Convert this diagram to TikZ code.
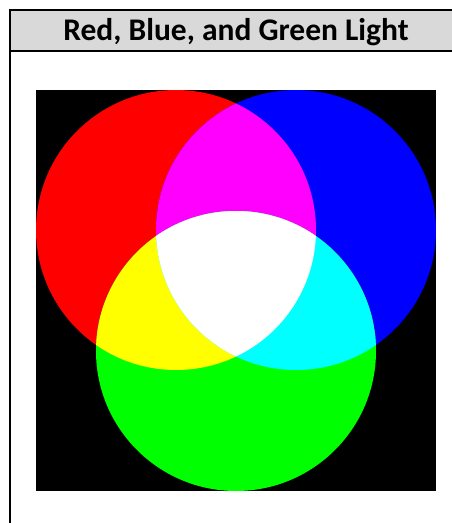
\documentclass[tikz,border=0pt]{standalone}
\usepackage{fontspec}
\setmainfont{Carlito}
\usetikzlibrary{positioning}
\definecolor{lightred}{RGB}{255,0,0}
\definecolor{lightgreen}{RGB}{0,255,0}
\definecolor{lightblue}{RGB}{0,0,255}
\definecolor{lightmagenta}{RGB}{255,0,255}
\definecolor{lightyellow}{RGB}{255,255,0}
\definecolor{lightcyan}{RGB}{0,255,255}
\definecolor{headgray}{RGB}{217,217,217}
\tikzset{
  frame line/.style={line width=2pt},
  heading/.style={font=\bfseries\fontsize{31.5}{36}\selectfont, anchor=base},
}

\begin{document}
\begin{tikzpicture}[x=1pt,y=-1pt]
        \useasboundingbox (0,0) rectangle (452,523);
        \clip (0,0) rectangle (452,523);
        \fill[headgray] (10,10) rectangle (466,51);
        \node[heading] (title) at (236,40) {Red, Blue, and Green Light};
        \draw[frame line] (10,530) -- (10,10) -- (466,10);
        \draw[frame line] (10,51) -- (466,51);

        \fill[black] (36,90) rectangle (436,491);
        \coordinate (R) at (176,230);
        \coordinate (B) at (296,230);
        \coordinate (G) at (236,351);

        \fill[lightred] (R) circle[radius=140pt];
        \fill[lightblue] (B) circle[radius=140pt];
        \fill[lightgreen] (G) circle[radius=140pt];
        \begin{scope}
            \clip (R) circle[radius=140pt];
            \fill[lightmagenta] (B) circle[radius=140pt];
            \fill[lightyellow] (G) circle[radius=140pt];
        \end{scope}
        \begin{scope}
            \clip (B) circle[radius=140pt];
            \fill[lightcyan] (G) circle[radius=140pt];
            \clip (R) circle[radius=140pt];
            \fill[white] (G) circle[radius=140pt];
        \end{scope}
    \end{tikzpicture}
\end{document}
